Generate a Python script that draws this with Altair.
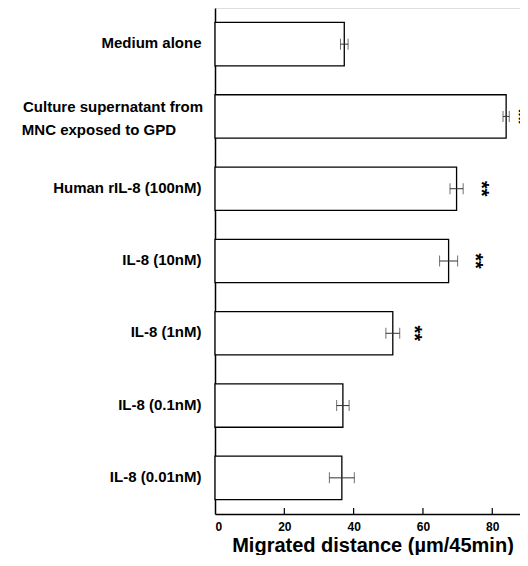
import altair as alt
import pandas as pd

# ---- data ----
categories = [
    "Medium alone",
    "Culture supernatant from MNC exposed to GPD",
    "Human rIL-8 (100nM)",
    "IL-8 (10nM)",
    "IL-8 (1nM)",
    "IL-8 (0.1nM)",
    "IL-8 (0.01nM)",
]
label_line1 = ["", "Culture supernatant from", "", "", "", "", ""]
label_line2 = ["", "MNC exposed to GPD", "", "", "", "", ""]
means = [37.3, 84.0, 69.7, 67.4, 51.3, 36.9, 36.6]
errors = [1.1, 0.9, 1.9, 2.6, 2.0, 1.8, 3.6]
signif = ["", "**", "**", "**", "**", "", ""]
star_x = [None, 88.6, 77.8, 76.3, 58.6, None, None]
x_ticks = [0, 20, 40, 60, 80]
inner_ticks = [20, 40, 60, 80]

df = pd.DataFrame({
    "category": categories,
    "line1": label_line1,
    "line2": label_line2,
    "mean": means,
    "lo": [m - e for m, e in zip(means, errors)],
    "hi": [m + e for m, e in zip(means, errors)],
    "sig": signif,
    "starx": star_x,
})
ticks_df = pd.DataFrame({"t": inner_ticks})

W, H = 305, 506
FONT = "Liberation Sans"

xscale = alt.Scale(domain=[0, 88], nice=False, zero=True)
yscale = alt.Scale(domain=categories, paddingInner=0.4, paddingOuter=0.2)

y_enc = alt.Y(
    "category:N",
    sort=categories,
    scale=yscale,
    title=None,
    axis=alt.Axis(
        labelExpr="datum.value == 'Culture supernatant from MNC exposed to GPD' ? '' : datum.label",
        labelFont=FONT,
        labelFontWeight="bold",
        labelFontSize=15,
        labelColor="black",
        labelPadding=14,
        labelLimit=300,
        labelOffset=-1,
        ticks=False,
        tickSize=0,
        domainColor="black",
        domainWidth=1.5,
        minExtent=207,
        maxExtent=207,
        grid=False,
    ),
)

x_enc = alt.X(
    "mean:Q",
    scale=xscale,
    title="Migrated distance (µm/45min)",
    axis=alt.Axis(
        values=x_ticks,
        format="d",
        grid=False,
        ticks=False,
        tickSize=0,
        labelFont=FONT,
        labelFontWeight="bold",
        labelFontSize=12,
        labelColor="black",
        labelPadding=7,
        domainColor="black",
        domainWidth=1.5,
        titleFont=FONT,
        titleFontWeight="bold",
        titleFontSize=20,
        titleColor="black",
        titlePadding=3,
        titleX=W / 2 + 5,
    ),
)

ycat = alt.Y("category:N", sort=categories, scale=yscale)

bars = alt.Chart(df).mark_bar(fill="white", stroke="black", strokeWidth=1.3).encode(
    x=x_enc, y=y_enc
)

txt_style = dict(font=FONT, fontWeight="bold", fontSize=15, align="right",
                 baseline="middle", color="black")

line1 = alt.Chart(df).transform_filter("datum.line1 != ''").mark_text(
    dy=-9, **txt_style
).encode(x=alt.value(-12), y=ycat, text="line1:N")

line2 = alt.Chart(df).transform_filter("datum.line2 != ''").mark_text(
    dy=14, **txt_style
).encode(x=alt.value(-39), y=ycat, text="line2:N")

whisk = alt.Chart(df).mark_rule(color="#333333", strokeWidth=1).encode(
    x=alt.X("lo:Q", scale=xscale), x2="hi:Q", y=ycat
)

caps = alt.Chart(df).transform_fold(["lo", "hi"], as_=["end", "val"]).mark_tick(
    orient="vertical", size=11, thickness=1, color="#333333"
).encode(
    x=alt.X("val:Q", scale=xscale), y=ycat
)

stars = alt.Chart(df).transform_filter("datum.sig != ''").mark_text(
    angle=90, font=FONT, fontWeight="bold", fontSize=20, align="center",
    baseline="middle", color="black", clip=True, dy=4
).encode(
    x=alt.X("starx:Q", scale=xscale),
    y=ycat,
    text="sig:N",
)

inticks = alt.Chart(ticks_df).mark_rule(color="black", strokeWidth=1.2).encode(
    x=alt.X("t:Q", scale=xscale), y=alt.value(H - 6), y2=alt.value(H)
)

chart = alt.layer(bars, line1, line2, whisk, caps, stars, inticks).properties(
    width=W, height=H,
    padding={"left": 0, "top": 0, "right": 0, "bottom": 0},
).configure_view(stroke=None).configure(background="white")

chart.save("out.html", embed_options={"renderer": "svg", "actions": False})
